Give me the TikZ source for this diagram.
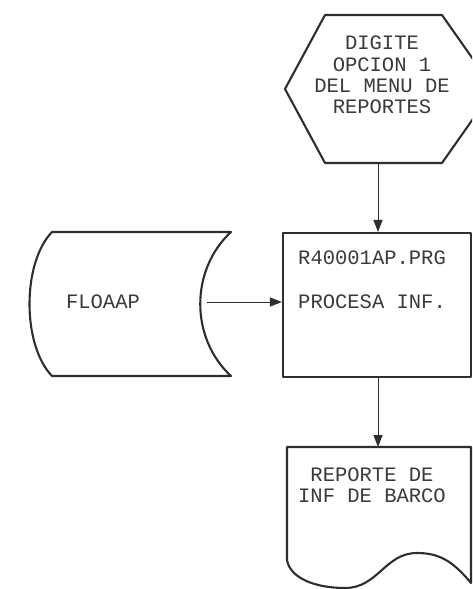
\documentclass[tikz,border=0pt]{standalone}
\usepackage{fontspec}
\setmonofont{Liberation Mono}
\usetikzlibrary{arrows.meta}
\definecolor{ink}{HTML}{2E2E2E}
\definecolor{txt}{HTML}{3A3A3A}
\tikzset{
  shapeline/.style={draw=ink, line width=2.1pt, line join=round},
  flow/.style={draw=ink, line width=1pt, -{Triangle[length=12pt,width=9pt]}},
  lbl/.style={font=\ttfamily\fontsize{20.5}{21.3}\selectfont, text=txt, inner sep=0pt, align=center},
  lbll/.style={font=\ttfamily\fontsize{20.5}{21.3}\selectfont, text=txt, inner sep=0pt, anchor=west},
}
\begin{document}
\begin{tikzpicture}[x=1pt,y=-1pt]
\clip (0,0) rectangle (472,589);
\fill[white] (0,0) rectangle (472,589);
% display (hexagon)
\draw[shapeline] (325,15) -- (442,15) -- (494,89) -- (442,163) -- (325,163) -- (285,89) -- cycle;
\node[lbl] (disp) at (382,75) {DIGITE\\OPCION 1\\DEL MENU DE\\REPORTES};
\coordinate (dispbot) at (378,163);
% process box
\node[shapeline, rectangle, minimum width=188pt, minimum height=144pt, inner sep=0pt] (proc) at (377,305) {};
\node[lbll] (t1) at (298,258) {R40001AP.PRG};
\node[lbll] (t2) at (298,302) {PROCESA INF.};
% stored data FLOAAP
\draw[shapeline] (52,232) -- (231,232) .. controls (190,270) and (190,338) .. (231,376)
  -- (52,376) .. controls (22,345) and (22,263) .. (52,232) -- cycle;
\node[lbl] (floaap) at (103,302) {FLOAAP};
\coordinate (fout) at (207,302);
% document
\draw[shapeline] (287,447) -- (471,447) -- (471,583)
  .. controls (452,560) and (438,553) .. (417,553)
  .. controls (385,553) and (378,588) .. (345,588)
  .. controls (315,588) and (290,578) .. (287,560) -- cycle;
\node[lbl] (doc) at (372,485) {REPORTE DE\\INF DE BARCO};
\coordinate (doctop) at (378,447);
% connectors
\draw[flow] (dispbot) -- (proc.north -| dispbot);
\draw[flow] (fout) -- (proc.west |- fout);
\draw[flow] (proc.south -| doctop) -- (doctop);
\end{tikzpicture}
\end{document}
